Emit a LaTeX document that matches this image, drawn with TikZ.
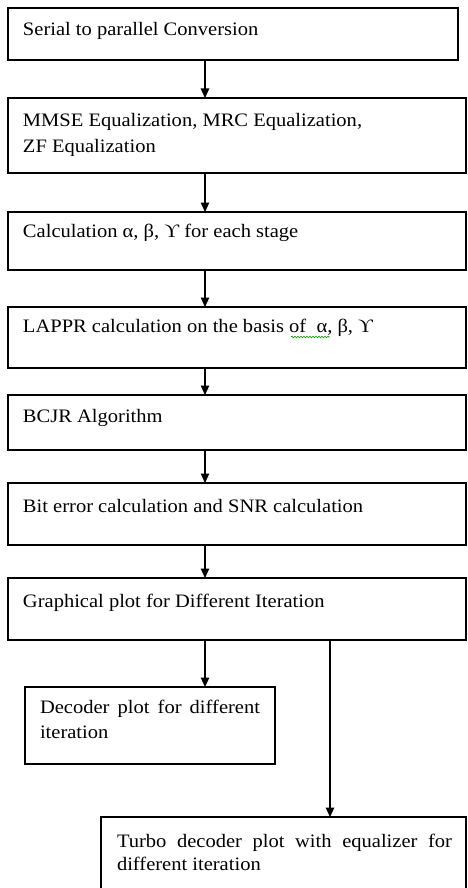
\documentclass[tikz,border=0pt]{standalone}
\usepackage{fontspec}
\setmainfont{Liberation Serif}[FakeStretch=1.08]
\usetikzlibrary{arrows.meta,decorations.pathmorphing}
\begin{document}
\begin{tikzpicture}[x=1pt,y=-1pt,
  box/.style={draw=black,line width=1.2pt,rectangle,anchor=north west,inner sep=0pt,outer sep=0pt},
  lbl/.style={anchor=base west,inner sep=0pt,outer sep=0pt,font=\fontsize{19}{25}\selectfont},
  arr/.style={draw=black,line width=1.2pt,-{Triangle[width=8.5pt,length=9.5pt]}}]
\useasboundingbox (0,0) rectangle (467,888);
% boxes
\node[box,minimum width=450pt,minimum height=52pt] (b1) at (8,8) {};
\node[box,minimum width=458pt,minimum height=75pt] (b2) at (8,98) {};
\node[box,minimum width=458pt,minimum height=58pt] (b3) at (8,212) {};
\node[box,minimum width=458pt,minimum height=61pt] (b4) at (8,307) {};
\node[box,minimum width=458pt,minimum height=55pt] (b5) at (8,395) {};
\node[box,minimum width=458pt,minimum height=62pt] (b6) at (8,483) {};
\node[box,minimum width=458pt,minimum height=62pt] (b7) at (8,578) {};
\node[box,minimum width=250pt,minimum height=77pt] (b8) at (25,687) {};
\node[box,minimum width=365pt,minimum height=80pt] (b9) at (101,817) {};
% texts
\node[lbl] (t1) at (23,36) {Serial to parallel Conversion};
\node[lbl] (t2a) at (23,127) {MMSE Equalization, MRC Equalization,};
\node[lbl] (t2b) at (23,152) {ZF Equalization};
\node[lbl] (t3) at (23,237) {Calculation α, β, ϒ for each stage};
\node[lbl] (t4) at (23,332) {LAPPR calculation on the basis of \ α, β, ϒ};
\node[lbl] (t5) at (23,422) {BCJR Algorithm};
\node[lbl] (t6) at (23,512) {Bit error calculation and SNR calculation};
\node[lbl] (t7) at (23,607) {Graphical plot for Different Iteration};
\node[lbl] (t8a) at (40,713) {\makebox[220pt][s]{Decoder plot for different}};
\node[lbl] (t8b) at (40,738) {iteration};
\node[lbl] (t9a) at (117,847) {\makebox[335pt][s]{Turbo decoder plot with equalizer for}};
\node[lbl] (t9b) at (117,870) {different iteration};
% spell-check squiggle
\coordinate (sq1) at (291,337);
\coordinate (sq2) at (330,337);
\draw[green!60!black,line width=0.6pt,decorate,decoration={snake,amplitude=0.8pt,segment length=3pt}] (sq1) -- (sq2);
% connectors
\coordinate (ax) at (205,0);
\coordinate (bx) at (330,0);
\draw[arr] (b1.south -| ax) -- (b2.north -| ax);
\draw[arr] (b2.south -| ax) -- (b3.north -| ax);
\draw[arr] (b3.south -| ax) -- (b4.north -| ax);
\draw[arr] (b4.south -| ax) -- (b5.north -| ax);
\draw[arr] (b5.south -| ax) -- (b6.north -| ax);
\draw[arr] (b6.south -| ax) -- (b7.north -| ax);
\draw[arr] (b7.south -| ax) -- (b8.north -| ax);
\draw[arr] (b7.south -| bx) -- (b9.north -| bx);
\end{tikzpicture}
\end{document}
